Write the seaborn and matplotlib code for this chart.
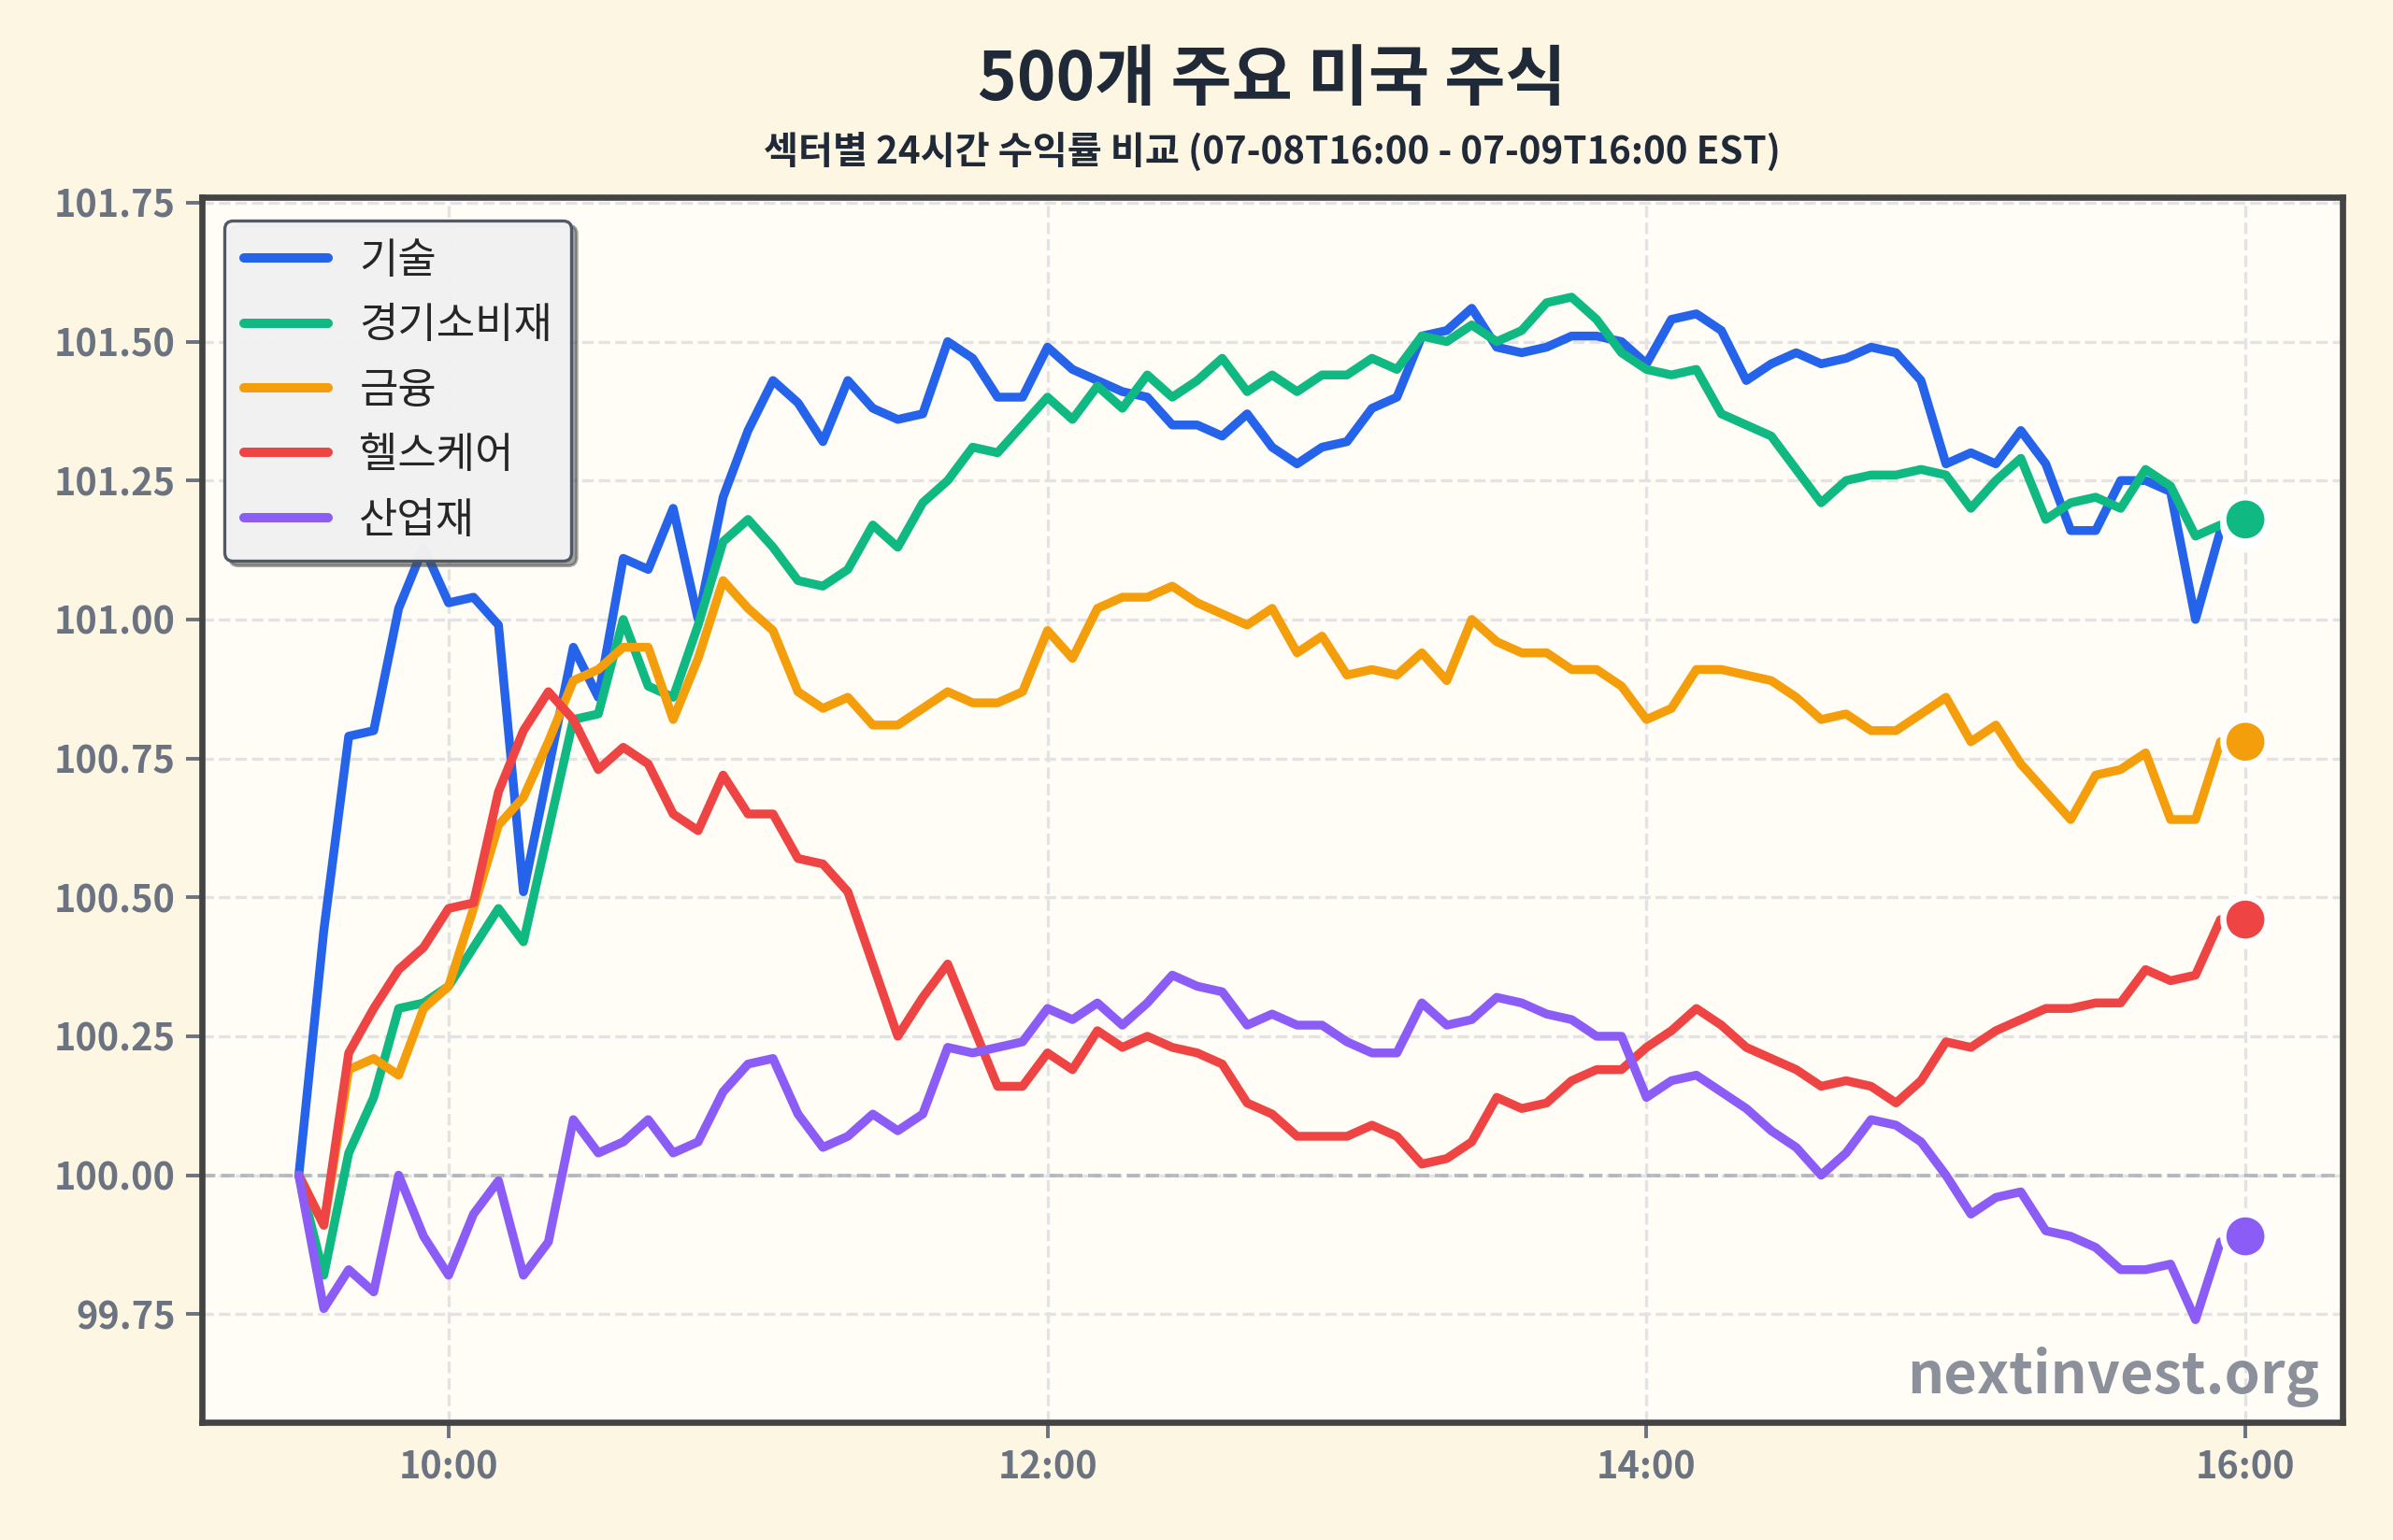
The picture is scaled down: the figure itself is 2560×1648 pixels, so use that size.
import numpy as np
import pandas as pd
import matplotlib
matplotlib.use("Agg")
import matplotlib.pyplot as plt
import matplotlib.dates as mdates
from matplotlib.ticker import StrMethodFormatter
import seaborn as sns

# ---------------- data ----------------
times = pd.date_range("2025-07-09 09:30", "2025-07-09 16:00", freq="5min")

sectors = ["기술", "경기소비재", "금융", "헬스케어", "산업재"]
colors = ["#2563eb", "#10b981", "#f59e0b", "#ef4444", "#8b5cf6"]

tech = [100.00, 100.44, 100.79, 100.80, 101.02, 101.13, 101.03, 101.04, 100.99, 100.51,
        100.73, 100.95, 100.86, 101.11, 101.09, 101.20, 101.00, 101.22, 101.34, 101.43,
        101.39, 101.32, 101.43, 101.38, 101.36, 101.37, 101.50, 101.47, 101.40, 101.40,
        101.49, 101.45, 101.43, 101.41, 101.40, 101.35, 101.35, 101.33, 101.37, 101.31,
        101.28, 101.31, 101.32, 101.38, 101.40, 101.51, 101.52, 101.56, 101.49, 101.48,
        101.49, 101.51, 101.51, 101.50, 101.46, 101.54, 101.55, 101.52, 101.43, 101.46,
        101.48, 101.46, 101.47, 101.49, 101.48, 101.43, 101.28, 101.30, 101.28, 101.34,
        101.28, 101.16, 101.16, 101.25, 101.25, 101.23, 101.00, 101.16, 101.17]

consumer = [100.00, 99.82, 100.04, 100.14, 100.30, 100.31, 100.34, 100.41, 100.48, 100.42,
            100.62, 100.82, 100.83, 101.00, 100.88, 100.86, 100.99, 101.14, 101.18, 101.13,
            101.07, 101.06, 101.09, 101.17, 101.13, 101.21, 101.25, 101.31, 101.30, 101.35,
            101.40, 101.36, 101.42, 101.38, 101.44, 101.40, 101.43, 101.47, 101.41, 101.44,
            101.41, 101.44, 101.44, 101.47, 101.45, 101.51, 101.50, 101.53, 101.50, 101.52,
            101.57, 101.58, 101.54, 101.48, 101.45, 101.44, 101.45, 101.37, 101.35, 101.33,
            101.27, 101.21, 101.25, 101.26, 101.26, 101.27, 101.26, 101.20, 101.25, 101.29,
            101.18, 101.21, 101.22, 101.20, 101.27, 101.24, 101.15, 101.17, 101.18]

finance = [100.00, 99.91, 100.19, 100.21, 100.18, 100.30, 100.34, 100.48, 100.63, 100.68,
           100.78, 100.89, 100.91, 100.95, 100.95, 100.82, 100.93, 101.07, 101.02, 100.98,
           100.87, 100.84, 100.86, 100.81, 100.81, 100.84, 100.87, 100.85, 100.85, 100.87,
           100.98, 100.93, 101.02, 101.04, 101.04, 101.06, 101.03, 101.01, 100.99, 101.02,
           100.94, 100.97, 100.90, 100.91, 100.90, 100.94, 100.89, 101.00, 100.96, 100.94,
           100.94, 100.91, 100.91, 100.88, 100.82, 100.84, 100.91, 100.91, 100.90, 100.89,
           100.86, 100.82, 100.83, 100.80, 100.80, 100.83, 100.86, 100.78, 100.81, 100.74,
           100.69, 100.64, 100.72, 100.73, 100.76, 100.64, 100.64, 100.78, 100.78]

health = [100.00, 99.91, 100.22, 100.30, 100.37, 100.41, 100.48, 100.49, 100.69, 100.80,
          100.87, 100.82, 100.73, 100.77, 100.74, 100.65, 100.62, 100.72, 100.65, 100.65,
          100.57, 100.56, 100.51, 100.38, 100.25, 100.32, 100.38, 100.27, 100.16, 100.16,
          100.22, 100.19, 100.26, 100.23, 100.25, 100.23, 100.22, 100.20, 100.13, 100.11,
          100.07, 100.07, 100.07, 100.09, 100.07, 100.02, 100.03, 100.06, 100.14, 100.12,
          100.13, 100.17, 100.19, 100.19, 100.23, 100.26, 100.30, 100.27, 100.23, 100.21,
          100.19, 100.16, 100.17, 100.16, 100.13, 100.17, 100.24, 100.23, 100.26, 100.28,
          100.30, 100.30, 100.31, 100.31, 100.37, 100.35, 100.36, 100.46, 100.46]

industrial = [100.00, 99.76, 99.83, 99.79, 100.00, 99.89, 99.82, 99.93, 99.99, 99.82,
              99.88, 100.10, 100.04, 100.06, 100.10, 100.04, 100.06, 100.15, 100.20, 100.21,
              100.11, 100.05, 100.07, 100.11, 100.08, 100.11, 100.23, 100.22, 100.23, 100.24,
              100.30, 100.28, 100.31, 100.27, 100.31, 100.36, 100.34, 100.33, 100.27, 100.29,
              100.27, 100.27, 100.24, 100.22, 100.22, 100.31, 100.27, 100.28, 100.32, 100.31,
              100.29, 100.28, 100.25, 100.25, 100.14, 100.17, 100.18, 100.15, 100.12, 100.08,
              100.05, 100.00, 100.04, 100.10, 100.09, 100.06, 100.00, 99.93, 99.96, 99.97,
              99.90, 99.89, 99.87, 99.83, 99.83, 99.84, 99.74, 99.88, 99.89]

title = "500개 주요 미국 주식"
subtitle = "섹터별 24시간 수익률 비교 (07-08T16:00 - 07-09T16:00 EST)"
watermark = "nextinvest.org"
y_ticks = [99.75, 100.00, 100.25, 100.50, 100.75, 101.00, 101.25, 101.50, 101.75]
x_tick_hours = [10, 12, 14, 16]

series = [tech, consumer, finance, health, industrial]
df = pd.DataFrame({
    "time": np.tile(times, len(sectors)),
    "sector": np.repeat(sectors, len(times)),
    "value": np.concatenate(series),
})
df_last = df[df["time"] == times[-1]]

# ---------------- style ----------------
sns.set_theme(style="white")
plt.rcParams["font.family"] = ["Noto Sans CJK KR", "DejaVu Sans"]
plt.rcParams["font.weight"] = "bold"
plt.rcParams["axes.unicode_minus"] = False

fig, ax = plt.subplots(figsize=(12.8, 8.24), dpi=200)
fig.patch.set_facecolor("#fdf6e3")
ax.set_facecolor("#fffdf6")
fig.subplots_adjust(left=0.0842, right=0.979, top=0.872, bottom=0.0763)

ax.grid(True, linestyle="--", color="#e3e3e3", linewidth=1.2, zorder=0)
ax.set_axisbelow(True)
ax.axhline(100, color="#a8adb5", linestyle="--", linewidth=1.4, alpha=0.8, zorder=1)

sns.lineplot(data=df, x="time", y="value", hue="sector", hue_order=sectors,
             palette=colors, linewidth=3.4, estimator=None, errorbar=None,
             ax=ax, zorder=3)
sns.scatterplot(data=df_last, x="time", y="value", hue="sector", hue_order=sectors,
                palette=colors, s=290, edgecolor="white", linewidth=2.4,
                legend=False, ax=ax, zorder=5)

# axes
ax.set_ylim(99.555, 101.76)
ax.set_yticks(y_ticks)
ax.yaxis.set_major_formatter(StrMethodFormatter("{x:.2f}"))
ax.margins(x=0.05)
ax.xaxis.set_major_locator(mdates.HourLocator(byhour=x_tick_hours))
ax.xaxis.set_major_formatter(mdates.DateFormatter("%H:%M"))
ax.set_xlabel("")
ax.set_ylabel("")
ax.tick_params(axis="both", which="major", bottom=True, left=True, direction="out",
               length=6, width=1.4, color="#6b7280", labelcolor="#6b7280",
               labelsize=14.3, pad=4)
for s in ax.spines.values():
    s.set_visible(True)
    s.set_color("#444444")
    s.set_linewidth(2.4)
    s.set_zorder(6)

# legend
old = ax.get_legend()
handles = old.legend_handles
labels = [t.get_text() for t in old.texts]
old.remove()
leg = ax.legend(handles, labels, loc="upper left", prop={"size": 16.2, "weight": "normal"},
                frameon=True, fancybox=True, shadow=True, facecolor="#f4f4f5",
                edgecolor="#4b5563", framealpha=0.97, borderaxespad=0.55,
                handlelength=2.0, handletextpad=0.75, labelspacing=0.52, borderpad=0.45)
for h in leg.legend_handles:
    h.set_linewidth(3.6)
    h.set_solid_capstyle("round")
leg.get_frame().set_linewidth(1.2)
leg.set_zorder(10)

# texts
fig.text(0.5315, 0.948, title, ha="center", va="center", fontsize=25.5,
         weight="bold", color="#1f2937")
fig.text(0.5315, 0.901, subtitle, ha="center", va="center", fontsize=14.5,
         weight="bold", color="#1f2937")
ax.text(0.989, 0.037, watermark, transform=ax.transAxes, ha="right", va="center",
        fontsize=22, weight="bold", color="#6b7280", alpha=0.78, zorder=4)

fig.savefig("out.png", dpi=200, facecolor=fig.get_facecolor())
